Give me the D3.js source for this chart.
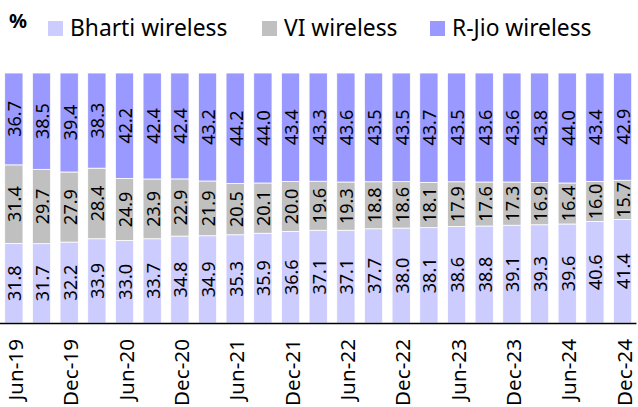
<!DOCTYPE html>
<html>
<head>
<meta charset="utf-8">
<script src="https://cdn.jsdelivr.net/npm/d3@7"></script>
<style>
  html, body { margin: 0; padding: 0; background: #fff; }
  svg { display: block; }
  text { font-family: "Noto Sans", sans-serif; fill: #000; }
</style>
</head>
<body>
<svg id="chart" width="638" height="407"></svg>
<script>
const categories = ["Jun-19","Sep-19","Dec-19","Mar-20","Jun-20","Sep-20","Dec-20","Mar-21","Jun-21","Sep-21","Dec-21","Mar-22","Jun-22","Sep-22","Dec-22","Mar-23","Jun-23","Sep-23","Dec-23","Mar-24","Jun-24","Sep-24","Dec-24"];
const tickLabels = ["Jun-19","Dec-19","Jun-20","Dec-20","Jun-21","Dec-21","Jun-22","Dec-22","Jun-23","Dec-23","Jun-24","Dec-24"];
const seriesNames = ["Bharti wireless","VI wireless","R-Jio wireless"];
const bharti = [31.8,31.7,32.2,33.9,33.0,33.7,34.8,34.9,35.3,35.9,36.6,37.1,37.1,37.7,38.0,38.1,38.6,38.8,39.1,39.3,39.6,40.6,41.4];
const vi     = [31.4,29.7,27.9,28.4,24.9,23.9,22.9,21.9,20.5,20.1,20.0,19.6,19.3,18.8,18.6,18.1,17.9,17.6,17.3,16.9,16.4,16.0,15.7];
const jio    = [36.7,38.5,39.4,38.3,42.2,42.4,42.4,43.2,44.2,44.0,43.4,43.3,43.6,43.5,43.5,43.7,43.5,43.6,43.6,43.8,44.0,43.4,42.9];
const colors = ["#CCCCFF","#C0C0C0","#9999FF"];

const svg = d3.select("#chart");
const rows = categories.map((c, i) => ({cat: c, s0: bharti[i], s1: vi[i], s2: jio[i]}));
const stack = d3.stack().keys(["s0","s1","s2"]).offset(d3.stackOffsetExpand);
const layers = stack(rows);

const x = d3.scaleBand().domain(categories).range([0, 636.4]).paddingInner(0.34).paddingOuter(0.17);
const y = d3.scaleLinear().domain([0, 1]).range([323, 73]);

const g = svg.append("g");
layers.forEach((layer, li) => {
  const lg = g.append("g");
  lg.selectAll("rect").data(layer).join("rect")
    .attr("x", d => x(d.data.cat))
    .attr("width", x.bandwidth())
    .attr("y", d => y(d[1]))
    .attr("height", d => y(d[0]) - y(d[1]))
    .attr("fill", colors[li])
    .attr("stroke", "#fff")
    .attr("stroke-width", 0.8);
  const vals = [bharti, vi, jio][li];
  lg.selectAll("text").data(layer).join("text")
    .attr("transform", (d, i) => `translate(${x(d.data.cat) + x.bandwidth()/2 + 0.5},${(y(d[0]) + y(d[1]))/2}) rotate(-90)`)
    .attr("text-anchor", "middle")
    .attr("dominant-baseline", "central")
    .style("font-size", "18px")
    .text((d, i) => vals[i].toFixed(1));
});

// x axis
const axis = d3.axisBottom(x).tickValues(tickLabels).tickSize(0).tickPadding(0);
const ax = svg.append("g").attr("transform", "translate(0,323)").call(axis);
ax.select(".domain").attr("stroke", "#000").attr("stroke-width", 1.5).attr("d", "M0,0.5H636.4");
ax.selectAll(".tick text")
  .attr("transform", "translate(1,16) rotate(-90)")
  .attr("x", 0).attr("y", 0).attr("dy", null)
  .attr("text-anchor", "end")
  .attr("dominant-baseline", "central")
  .style("font-size", "20.7px")
  .style("font-family", "'Noto Sans', sans-serif")
  .attr("fill", "#000");

// % label
svg.append("text").attr("x", 9).attr("y", 28).style("font-size", "20px").style("font-weight", "bold").text("%");

// legend
const legendX = [48, 262, 430];
const leg = svg.append("g");
seriesNames.forEach((n, i) => {
  leg.append("rect").attr("x", legendX[i]).attr("y", 21).attr("width", 15).attr("height", 15).attr("fill", colors[i]);
  leg.append("text").attr("x", legendX[i] + 22).attr("y", 36).style("font-size", "22.8px").text(n);
});
</script>
</body>
</html>
